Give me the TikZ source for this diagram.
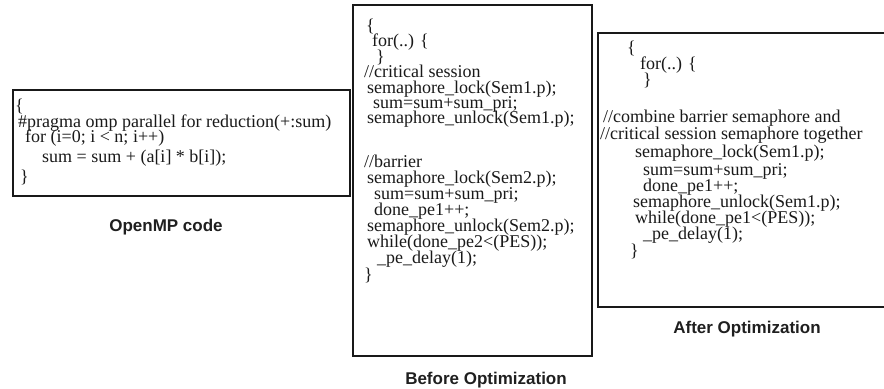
\documentclass[tikz,border=0pt]{standalone}
\usepackage{fontspec}
\setmainfont{Liberation Serif}
\newfontfamily\labelfont{Liberation Sans}
\begin{document}
\begin{tikzpicture}[x=1bp,y=-1bp,
  box/.style={draw=black!90, line width=1.6bp, inner sep=0pt, outer sep=0pt},
  code/.style={anchor=base west, inner sep=0pt, font=\fontsize{18bp}{18bp}\selectfont, text=black!90},
  caption/.style={anchor=base, inner sep=0pt, font=\labelfont\bfseries\fontsize{17bp}{17bp}\selectfont, text=black!88}]
\useasboundingbox (0,0) rectangle (884,388);
% boxes
\node[box, minimum width=337bp, minimum height=106bp, anchor=north west] (lbox) at (13,90) {};
\node[box, minimum width=239bp, minimum height=351bp, anchor=north west] (mbox) at (353,5) {};
\node[inner sep=0pt, outer sep=0pt, minimum width=300bp, minimum height=274bp, anchor=north west] (rbox) at (598,33) {};
\draw[line width=1.6bp, draw=black!90] (rbox.north east) -- (rbox.north west) -- (rbox.south west) -- (rbox.south east);
% left code
\node[code] (l1) at (15,111) {\{};
\node[code] (l2) at (18,127) {\#pragma omp parallel for reduction(+:sum)};
\node[code] (l3) at (25,142) {for (i=0; i < n; i++)};
\node[code] (l4) at (42,162) {sum = sum + (a[i] * b[i]);};
\node[code] (l5) at (20,182) {\}};
\node[caption] (lcap) at (166,231) {OpenMP code};
% middle code
\node[code] (m1) at (366,31) {\{};
\node[code] (m2) at (372,46) {for(..) \{};
\node[code] (m3) at (376,62) {\}};
\node[code] (m4) at (364,77) {//critical session};
\node[code] (m5) at (367,93) {semaphore\_lock(Sem1.p);};
\node[code] (m6) at (373,108) {sum=sum+sum\_pri;};
\node[code] (m7) at (367,123) {semaphore\_unlock(Sem1.p);};
\node[code] (m8) at (364,167) {//barrier};
\node[code] (m9) at (367,183) {semaphore\_lock(Sem2.p);};
\node[code] (m10) at (374,199) {sum=sum+sum\_pri;};
\node[code] (m11) at (374,215) {done\_pe1++;};
\node[code] (m12) at (367,231) {semaphore\_unlock(Sem2.p);};
\node[code] (m13) at (367,247) {while(done\_pe2<(PES));};
\node[code] (m14) at (377,263) {\_pe\_delay(1);};
\node[code] (m15) at (364,280) {\}};
\node[caption] (mcap) at (486,384) {Before Optimization};
% right code
\node[code] (r1) at (627,53) {\{};
\node[code] (r2) at (640,69) {for(..) \{};
\node[code] (r3) at (643,85) {\}};
\node[code] (r4) at (603,122) {//combine barrier semaphore and};
\node[code] (r5) at (600,139) {//critical session semaphore together};
\node[code] (r6) at (635,157) {semaphore\_lock(Sem1.p);};
\node[code] (r7) at (643,175) {sum=sum+sum\_pri;};
\node[code] (r8) at (643,191) {done\_pe1++;};
\node[code] (r9) at (633,207) {semaphore\_unlock(Sem1.p);};
\node[code] (r10) at (635,223) {while(done\_pe1<(PES));};
\node[code] (r11) at (643,239) {\_pe\_delay(1);};
\node[code] (r12) at (630,256) {\}};
\node[caption] (rcap) at (747,333) {After Optimization};
\end{tikzpicture}
\end{document}
